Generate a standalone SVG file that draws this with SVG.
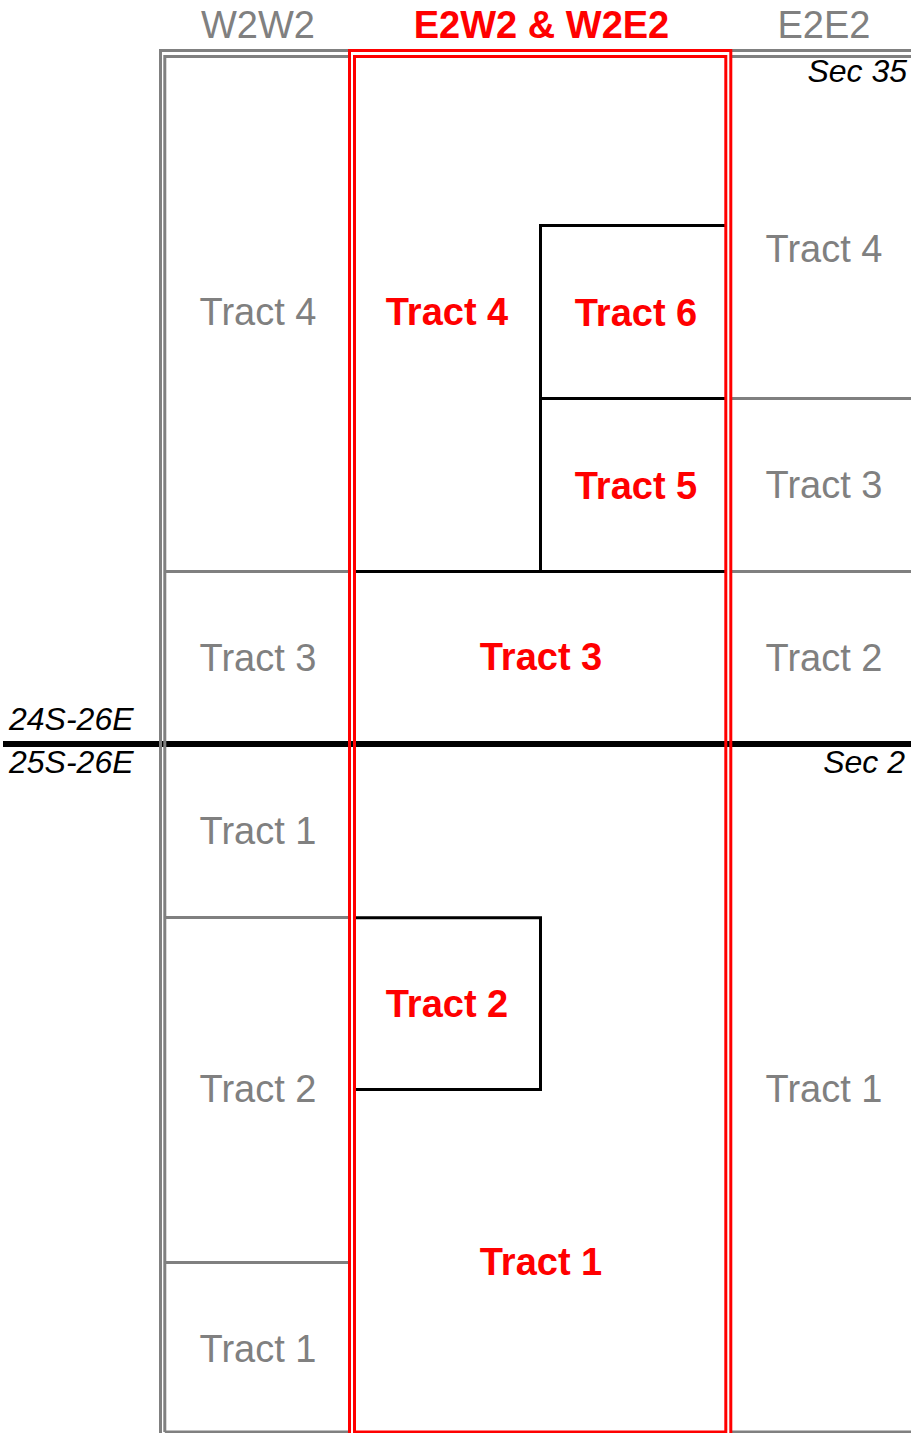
<svg xmlns="http://www.w3.org/2000/svg" width="911" height="1433" viewBox="0 0 911 1433">
<style>
.g{fill:#808080;font-family:"Liberation Sans",Arial,sans-serif;font-size:38px;text-anchor:middle}
.r{fill:#ff0000;font-family:"Liberation Sans",Arial,sans-serif;font-size:38px;font-weight:bold;text-anchor:middle}
.i{fill:#000;font-family:"Liberation Sans",Arial,sans-serif;font-size:32px;font-style:italic}
.gl{stroke:#808080;stroke-width:3;fill:none}
.rl{stroke:#ff0000;stroke-width:3;fill:none}
.bl{stroke:#000;stroke-width:3;fill:none}
</style>
<rect width="911" height="1433" fill="#fff"/>
<g id="connectors">
<line x1="3" y1="744" x2="911" y2="744" stroke="#000" stroke-width="6"/>
<line class="bl" x1="354" y1="571.5" x2="726" y2="571.5"/>
<path class="bl" d="M726 225.5H540.5V571.5M540.5 398.5H726"/>
<path class="bl" d="M354 917.8H540.5V1089.5H354"/>
<path class="gl" d="M160.5 1440V50.5H915"/>
<path class="gl" d="M164.8 1432V56.5H350M164.8 1432H350"/>
<path class="gl" d="M165 571.5H349M165 917.5H349M165 1262.5H349"/>
<path class="gl" d="M731 56.5H915M731 1432H915M731 398.5H915M731 571.5H915"/>
<path class="rl" d="M349.5 1440V50.5H730.8V1440"/>
<rect class="rl" x="354.5" y="56.5" width="371.3" height="1375.5"/>
</g>
<g id="headers">
<text class="g" x="258" y="38">W2W2</text>
<text class="r" x="541.5" y="38">E2W2 &amp; W2E2</text>
<text class="g" x="824" y="38">E2E2</text>
</g>
<g id="labels">
<text class="i" x="907" y="82" text-anchor="end">Sec 35</text>
<text class="i" x="905" y="773" text-anchor="end">Sec 2</text>
<text class="i" x="9" y="730">24S-26E</text>
<text class="i" x="9" y="773">25S-26E</text>
</g>
<g id="w2w2">
<text class="g" x="258" y="325">Tract 4</text>
<text class="g" x="258" y="671">Tract 3</text>
<text class="g" x="258" y="844">Tract 1</text>
<text class="g" x="258" y="1102">Tract 2</text>
<text class="g" x="258" y="1362">Tract 1</text>
</g>
<g id="e2e2">
<text class="g" x="824" y="262">Tract 4</text>
<text class="g" x="824" y="498">Tract 3</text>
<text class="g" x="824" y="671">Tract 2</text>
<text class="g" x="824" y="1102">Tract 1</text>
</g>
<g id="e2w2">
<text class="r" x="447" y="325">Tract 4</text>
<text class="r" x="636" y="326">Tract 6</text>
<text class="r" x="636" y="499">Tract 5</text>
<text class="r" x="541" y="670">Tract 3</text>
<text class="r" x="447" y="1017">Tract 2</text>
<text class="r" x="541" y="1275">Tract 1</text>
</g>
</svg>
